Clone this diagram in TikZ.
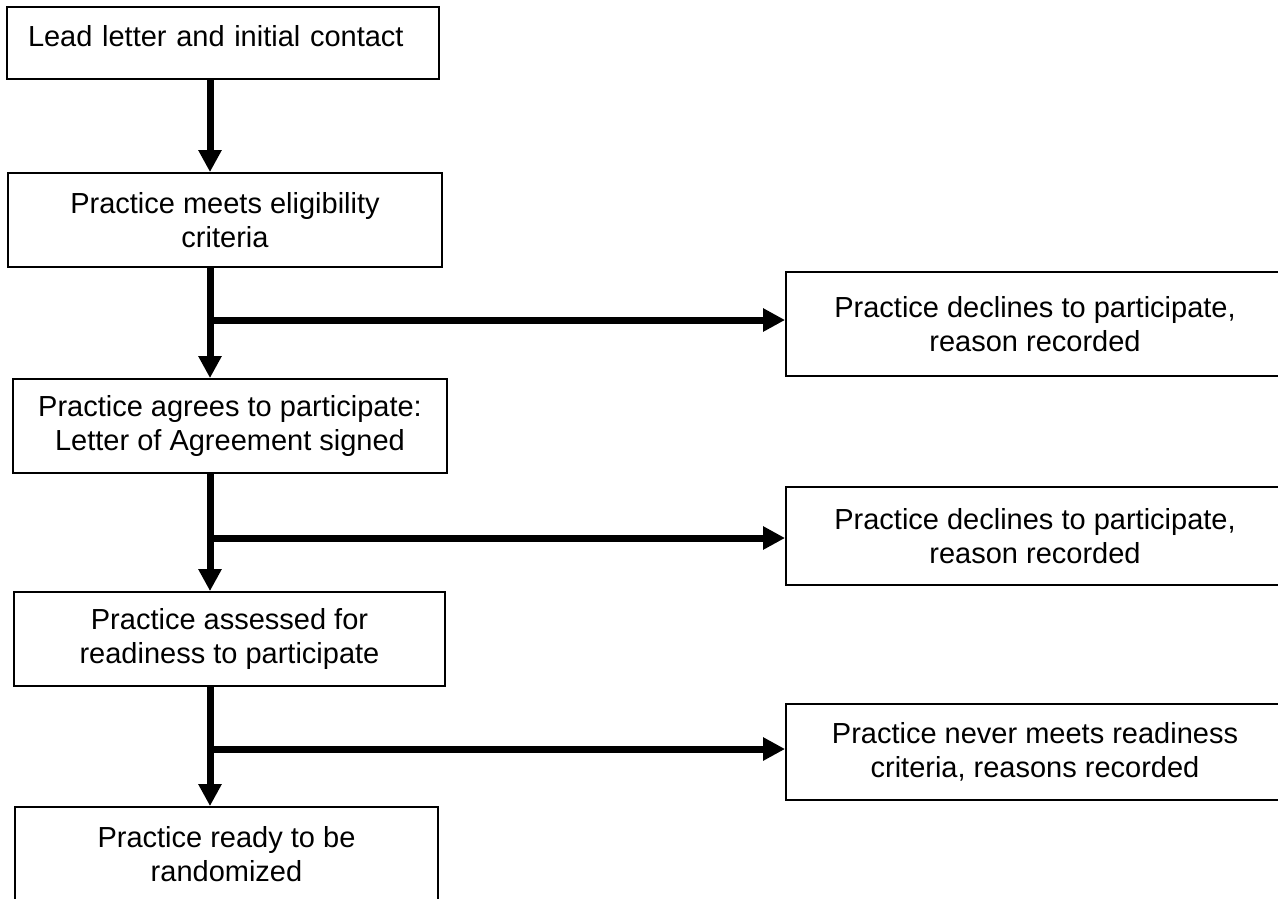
\documentclass[tikz,border=0pt]{standalone}
\usepackage{fontspec}
\setmainfont{Liberation Sans}
\usetikzlibrary{arrows.meta}

\begin{document}
\begin{tikzpicture}[x=1pt,y=-1pt,
  stagebox/.style={draw, line width=1.8pt, align=center, inner sep=0pt,
    font=\fontsize{29}{34}\selectfont},
  flowarrow/.style={line width=7pt, -{Triangle[width=22pt,length=22pt]}}]
\useasboundingbox (0,0) rectangle (1278,898);
% main column
\node[stagebox, minimum width=432pt, minimum height=72pt, text width=390pt, align=left, text depth=14pt] (lead) at (223,43) {Lead letter and initial contact};
\node[stagebox, minimum width=434pt, minimum height=94pt] (elig) at (225,220) {Practice meets eligibility\\criteria};
\node[stagebox, minimum width=434pt, minimum height=94pt] (agree) at (230,426) {Practice agrees to participate:\\Letter of Agreement signed};
\node[stagebox, minimum width=431pt, minimum height=94pt] (assess) at (229.5,639) {Practice assessed for\\readiness to participate};
\node[stagebox, minimum width=423pt, minimum height=94pt] (ready) at (226.5,854) {Practice ready to be\\randomized};
% side boxes
\node[stagebox, minimum width=498pt, minimum height=104pt] (decl1) at (1035,324) {Practice declines to participate,\\reason recorded};
\node[stagebox, minimum width=498pt, minimum height=98pt] (decl2) at (1035,536) {Practice declines to participate,\\reason recorded};
\node[stagebox, minimum width=498pt, minimum height=96pt] (never) at (1035,752) {Practice never meets readiness\\criteria, reasons recorded};
% arrows
\coordinate (spine) at (210,0);
\coordinate (fork1) at (210,320);
\coordinate (fork2) at (210,538);
\coordinate (fork3) at (210,749);
\draw[flowarrow] (lead.south -| spine) -- (elig.north -| spine);
\draw[flowarrow] (elig.south -| spine) -- (agree.north -| spine);
\draw[flowarrow] (agree.south -| spine) -- (assess.north -| spine);
\draw[flowarrow] (assess.south -| spine) -- (ready.north -| spine);
\draw[flowarrow] (fork1) -- (decl1.west |- fork1);
\draw[flowarrow] (fork2) -- (decl2.west |- fork2);
\draw[flowarrow] (fork3) -- (never.west |- fork3);
\end{tikzpicture}
\end{document}
